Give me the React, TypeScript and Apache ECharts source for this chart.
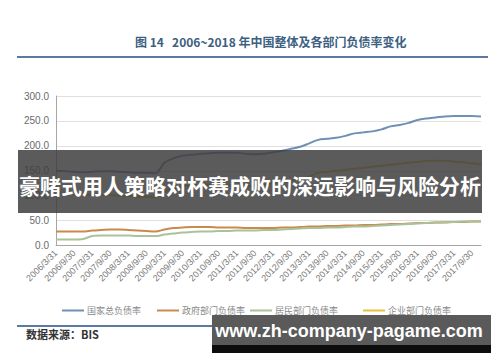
import React, { useEffect, useRef } from "react";
import * as echarts from "echarts";

const years = [2006, 2007, 2008, 2009, 2010, 2011, 2012, 2013, 2014, 2015, 2016, 2017];
const quarterEnds = ["3/31", "6/30", "9/30", "12/31"];
const categories: string[] = [];
years.forEach((y) => quarterEnds.forEach((q) => categories.push(`${y}/${q}`)));

const totalDebt = [
  150, 149, 148, 147, 148, 149, 149, 148, 147, 146, 146, 145,
  166, 175, 180, 182, 184, 185, 186, 186, 186, 184, 183, 184,
  187, 190, 194, 198, 205, 212, 214, 216, 220, 225, 227, 229,
  233, 239, 242, 246, 252, 255, 257, 259, 260, 260, 260, 259,
];
const govDebt = [
  28, 28, 28, 28, 30, 31, 32, 32, 31, 30, 29, 28,
  32, 35, 36, 37, 37, 37, 36, 36, 36, 35, 35, 35,
  35, 36, 36, 37, 38, 38, 39, 39, 40, 40, 41, 41,
  42, 43, 43, 44, 45, 45, 46, 46, 47, 47, 48, 48,
];
const householdDebt = [
  12, 12, 12, 13, 19, 20, 20, 20, 20, 19, 19, 19,
  22, 24, 26, 27, 28, 28, 29, 29, 30, 30, 30, 31,
  31, 32, 33, 34, 35, 35, 36, 36, 37, 38, 38, 39,
  40, 41, 42, 43, 44, 45, 46, 47, 47, 48, 48, 49,
];
const corpDebt = [
  105, 104, 103, 102, 102, 102, 101, 100, 99, 98, 98, 97,
  108, 115, 119, 121, 122, 122, 121, 121, 120, 119, 120, 122,
  125, 127, 130, 133, 138, 146, 148, 150, 152, 154, 156, 158,
  160, 162, 164, 166, 168, 170, 170, 170, 168, 167, 165, 163,
];
const seriesNames = ["国家总负债率", "政府部门负债率", "居民部门负债率", "企业部门负债率"];
const seriesColors = ["#6d90b4", "#c98a4b", "#a9c29a", "#e3c23c"];
const chartTitle = "图 14   2006~2018 年中国整体及各部门负债率变化";
const sourceText = "数据来源：BIS";
const bannerText = "豪赌式用人策略对杯赛成败的深远影响与风险分析";
const watermarkText = "www.zh-company-pagame.com";

const CJK = "'Noto Sans CJK SC', 'Noto Sans', sans-serif";

export default function App() {
  const ref = useRef<HTMLDivElement>(null);
  useEffect(() => {
    if (!ref.current) return;
    const chart = echarts.init(ref.current, undefined, { renderer: "svg" });
    const dataSets = [totalDebt, govDebt, householdDebt, corpDebt];
    const legendLefts = [57, 152, 245, 358];
    chart.setOption({
      animation: false,
      backgroundColor: "#ffffff",
      grid: { left: 56, right: 19, top: 96, bottom: 116.5 },
      legend: seriesNames.map((n, i) => ({
        data: [n],
        left: legendLefts[i],
        top: 301,
        icon: "rect",
        itemWidth: 22,
        itemHeight: 2,
        itemGap: 4,
        textStyle: { fontSize: 9, color: "#8a8a8a", fontFamily: CJK, padding: [0, 0, 0, -2] },
      })),
      xAxis: {
        type: "category",
        data: categories,
        boundaryGap: false,
        axisLine: { lineStyle: { color: "#a6a6a6", width: 1 } },
        axisTick: { show: false },
        axisLabel: {
          interval: 1,
          rotate: 45,
          fontSize: 9,
          color: "#7a7a7a",
          margin: 6,
          fontFamily: "'Liberation Sans', sans-serif",
        },
        splitLine: { show: false },
      },
      yAxis: {
        type: "value",
        min: 0,
        max: 300,
        interval: 50,
        axisLine: { show: true, lineStyle: { color: "#a6a6a6", width: 1 } },
        axisTick: { show: false },
        axisLabel: {
          formatter: (v: number) => v.toFixed(1),
          fontSize: 10,
          color: "#6a6a6a",
          margin: 7,
          fontFamily: "'Liberation Sans', sans-serif",
        },
        splitLine: { lineStyle: { color: "#e0e0e0", width: 1 } },
      },
      series: seriesNames.map((n, i) => ({
        name: n,
        type: "line",
        data: dataSets[i],
        symbol: "none",
        smooth: 0.3,
        itemStyle: { color: seriesColors[i] },
        lineStyle: { color: seriesColors[i], width: 2 },
      })),
      graphic: [
        {
          type: "text",
          x: 135,
          y: 41,
          style: {
            text: chartTitle,
            font: `bold 12px ${CJK}`,
            fill: "#3d5f82",
            verticalAlign: "middle",
          },
        },
        {
          type: "rect",
          shape: { x: 17, y: 56, width: 471, height: 2 },
          style: { fill: "#5b7aa3" },
        },
        {
          type: "rect",
          shape: { x: 17, y: 325, width: 471, height: 2 },
          style: { fill: "#5b7aa3" },
        },
        {
          type: "text",
          x: 26,
          y: 334,
          style: {
            text: sourceText,
            font: `bold 11px ${CJK}`,
            fill: "#333333",
            verticalAlign: "middle",
          },
        },
        {
          type: "rect",
          shape: { x: 18, y: 150, width: 464, height: 63 },
          style: { fill: "rgba(62,62,62,0.85)" },
          z: 100,
        },
        {
          type: "text",
          x: 250,
          y: 185,
          style: {
            text: bannerText,
            font: `bold 21px ${CJK}`,
            fill: "#ffffff",
            align: "center",
            verticalAlign: "middle",
          },
          z: 101,
        },
        {
          type: "rect",
          shape: { x: 212, y: 315, width: 279, height: 30 },
          style: { fill: "#5a5a5a" },
          z: 100,
        },
        {
          type: "rect",
          shape: { x: 212, y: 345, width: 279, height: 8 },
          style: { fill: "#0d0d0d" },
          z: 100,
        },
        {
          type: "text",
          x: 349,
          y: 331,
          style: {
            text: watermarkText,
            font: `bold 18px 'Liberation Sans', sans-serif`,
            fill: "#ffffff",
            align: "center",
            verticalAlign: "middle",
          },
          z: 101,
        },
      ],
    });
    return () => chart.dispose();
  }, []);
  return (
    <div
      ref={ref}
      style={{ position: "fixed", left: 0, top: 0, width: 500, height: 362, background: "#fff" }}
    />
  );
}
